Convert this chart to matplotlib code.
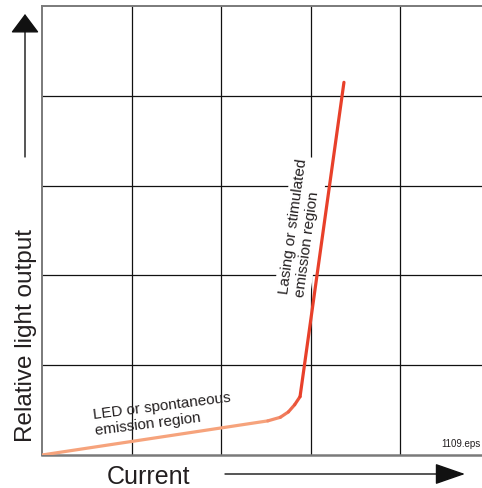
"""
Laser diode light output vs drive current: LED region below threshold,
lasing region above it. Schematic grid without tick labels.
"""

import matplotlib
matplotlib.use("Agg")
import matplotlib.pyplot as plt
import numpy as np
from matplotlib.collections import LineCollection
from matplotlib.colors import LinearSegmentedColormap

# ---------------------------------------------------------------------------
# Data (grid units: one cell = 1)
# ---------------------------------------------------------------------------

current = [0.00, 2.52, 2.66, 2.75, 2.82, 2.88, 3.37]
light   = [0.00, 0.38, 0.42, 0.48, 0.56, 0.65, 4.15]

grid_x = [1, 2, 3, 4]
grid_y = [1, 2, 3, 4]

led_label    = "LED or spontaneous\nemission region"
lasing_label = "Lasing or stimulated\nemission region"
xlabel       = "Current"
ylabel       = "Relative light output"
file_tag     = "1109.eps"

plt.rcParams.update({
    "font.family": ["Liberation Sans", "DejaVu Sans"],
})

W, H = 482, 488


def fx(px):
    return px / W


def fy(py):
    return 1 - py / H


# ---------------------------------------------------------------------------
# Figure
# ---------------------------------------------------------------------------

fig = plt.figure(figsize=(W / 100, H / 100), dpi=100)
ax = fig.add_axes([fx(42), fy(455), (482 - 42) / W, (455 - 6) / H])
ax.set_xlim(0, 440 / 89.6)
ax.set_ylim(0, 5)
ax.set_xticks([])
ax.set_yticks([])

for gx in grid_x:
    ax.axvline(gx, color="#111", lw=0.9, zorder=1)
for gy in grid_y:
    ax.axhline(gy, color="#111", lw=0.9, zorder=1)

for side in ("left", "bottom", "top"):
    ax.spines[side].set_color("#7a7a7a")
ax.spines["left"].set_linewidth(1.4)
ax.spines["bottom"].set_linewidth(1.8)
ax.spines["top"].set_linewidth(1.4)
ax.spines["right"].set_visible(False)

# gradient curve: salmon on the LED part -> red on the lasing part
pts = np.column_stack([current, light])
segs = np.stack([pts[:-1], pts[1:]], axis=1)
cmap = LinearSegmentedColormap.from_list("lsr", ["#F6A37C", "#E8402A"])
cols = cmap(np.linspace(0, 1, len(segs)))
lc = LineCollection(segs, colors=cols, linewidths=2.3, zorder=5,
                    capstyle="round", joinstyle="round")
ax.add_collection(lc)
ax.set_zorder(1)

# region labels
fig.text(fx(163), fy(414), led_label, fontsize=11, color="#231f20",
         rotation=7.2, rotation_mode="anchor", ha="center", va="center",
         multialignment="left", linespacing=1.2, zorder=3)
fig.text(fx(301), fy(228), lasing_label, fontsize=11, color="#231f20",
         rotation=82.3, rotation_mode="anchor", ha="center", va="center",
         multialignment="left", linespacing=1.2, zorder=3,
         bbox=dict(boxstyle="square,pad=0.2", fc="white", ec="none"))

fig.text(fx(481), fy(447), file_tag, fontsize=7, color="#231f20",
         ha="right", va="baseline")

# axis labels and arrows
fig.text(fx(26), fy(336), ylabel, fontsize=17.5, color="#231f20",
         rotation=90, ha="center", va="center")
fig.text(fx(148), fy(477), xlabel, fontsize=18, color="#231f20",
         ha="center", va="center")

arrow_kw = dict(xycoords="figure fraction", textcoords="figure fraction")
fig.add_artist(plt.Annotation(
    "", xy=(fx(25), fy(14)), xytext=(fx(25), fy(157)),
    arrowprops=dict(arrowstyle="-|>,head_length=0.6,head_width=0.45",
                    mutation_scale=20, color="#111", lw=1.0,
                    shrinkA=0, shrinkB=0),
    **arrow_kw))
fig.add_artist(plt.Annotation(
    "", xy=(fx(465), fy(474)), xytext=(fx(225), fy(474)),
    arrowprops=dict(arrowstyle="-|>,head_length=0.95,head_width=0.33",
                    mutation_scale=20, color="#111", lw=1.0,
                    shrinkA=0, shrinkB=0),
    **arrow_kw))

fig.savefig("out.png", dpi=100)
